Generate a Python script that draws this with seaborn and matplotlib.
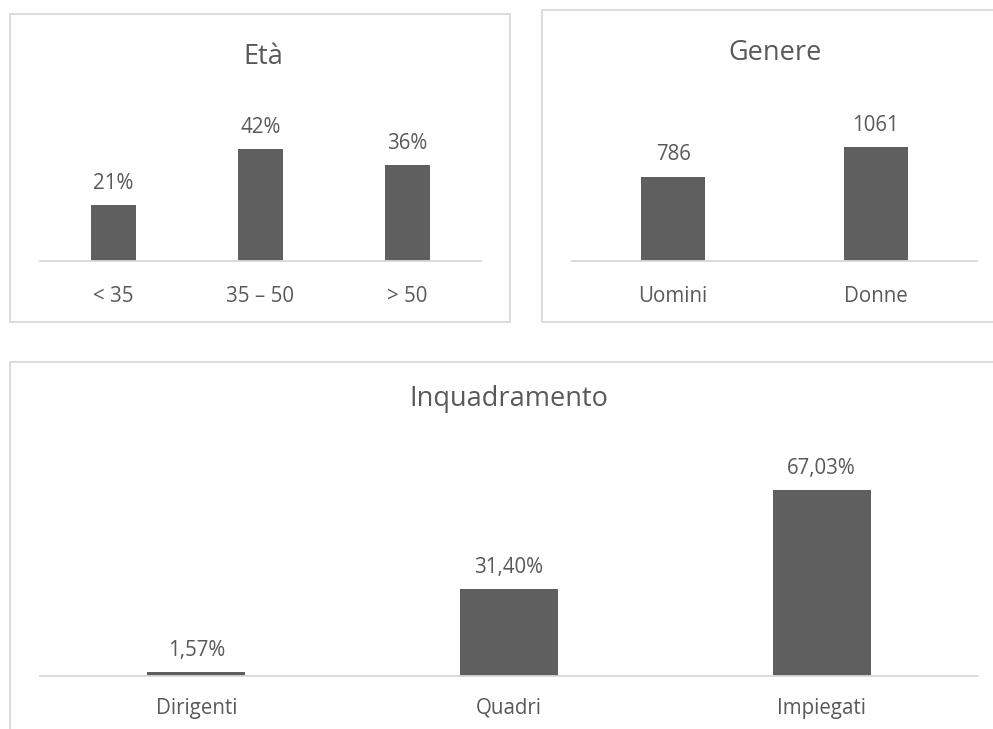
import matplotlib
matplotlib.use("Agg")
import matplotlib.pyplot as plt
from matplotlib.patches import Rectangle
import seaborn as sns

# Data
eta_labels = ["< 35", "35 – 50", "> 50"]
eta_values = [21, 42, 36]
eta_text = ["21%", "42%", "36%"]

genere_labels = ["Uomini", "Donne"]
genere_values = [786, 1061]
genere_text = ["786", "1061"]

inq_labels = ["Dirigenti", "Quadri", "Impiegati"]
inq_values = [1.57, 31.40, 67.03]
inq_text = ["1,57%", "31,40%", "67,03%"]

W, H = 993, 729
BAR = "#5f5f5f"
TXT = "#595959"
GRID = "#d9d9d9"
FS = 14.8
TFS = 19.5

plt.rcParams["font.family"] = ["Open Sans", "DejaVu Sans"]

fig = plt.figure(figsize=(W / 100, H / 100), dpi=100)
fig.patch.set_facecolor("white")


def px_axes(x0, x1, y_top, y_base):
    return fig.add_axes([x0 / W, 1 - y_base / H, (x1 - x0) / W, (y_base - y_top) / H])


def panel(x0, y0, x1, y1):
    fig.add_artist(Rectangle((x0 / W, 1 - y1 / H), (x1 - x0) / W, (y1 - y0) / H,
                             transform=fig.transFigure, fill=False, ec=GRID, lw=1.3))


def draw(ax, labels, values, texts, width, ymax, pad_lbl=8, pad_tick=18):
    sns.barplot(x=labels, y=values, order=labels, color=BAR, saturation=1,
                width=width, errorbar=None, ax=ax)
    ax.set_xlim(-0.5, len(labels) - 0.5)
    ax.set_ylim(0, ymax)
    for s in ["top", "left", "right"]:
        ax.spines[s].set_visible(False)
    ax.spines["bottom"].set_color(GRID)
    ax.spines["bottom"].set_linewidth(1.3)
    ax.set_yticks([])
    ax.set_xlabel("")
    ax.set_ylabel("")
    ax.tick_params(axis="x", length=0, pad=pad_tick, labelsize=FS, labelcolor=TXT)
    ax.bar_label(ax.containers[0], labels=texts, padding=pad_lbl, fontsize=FS, color=TXT)
    ax.patch.set_alpha(0)


# panel frames
panel(10, 14, 510, 322)
panel(542, 10, 1000, 322)
panel(10, 362, 1000, 740)

# Età
ax1 = px_axes(40, 481, 100, 261)
draw(ax1, eta_labels, eta_values, eta_text, 0.31, 161 / 2.667)
fig.text(263 / W, 1 - 57 / H, "Età", ha="center", va="center", fontsize=TFS, color=TXT)

# Genere
ax2 = px_axes(572, 977, 100, 261)
draw(ax2, genere_labels, genere_values, genere_text, 0.316, 161 / 0.1074)
fig.text(775 / W, 1 - 53 / H, "Genere", ha="center", va="center", fontsize=TFS, color=TXT)

# Inquadramento
ax3 = px_axes(40, 978, 430, 676)
draw(ax3, inq_labels, inq_values, inq_text, 0.313, 246 / 2.775, pad_tick=15.5)
fig.text(509 / W, 1 - 399 / H, "Inquadramento", ha="center", va="center", fontsize=TFS, color=TXT)

fig.savefig("out.png", dpi=100, facecolor="white")
